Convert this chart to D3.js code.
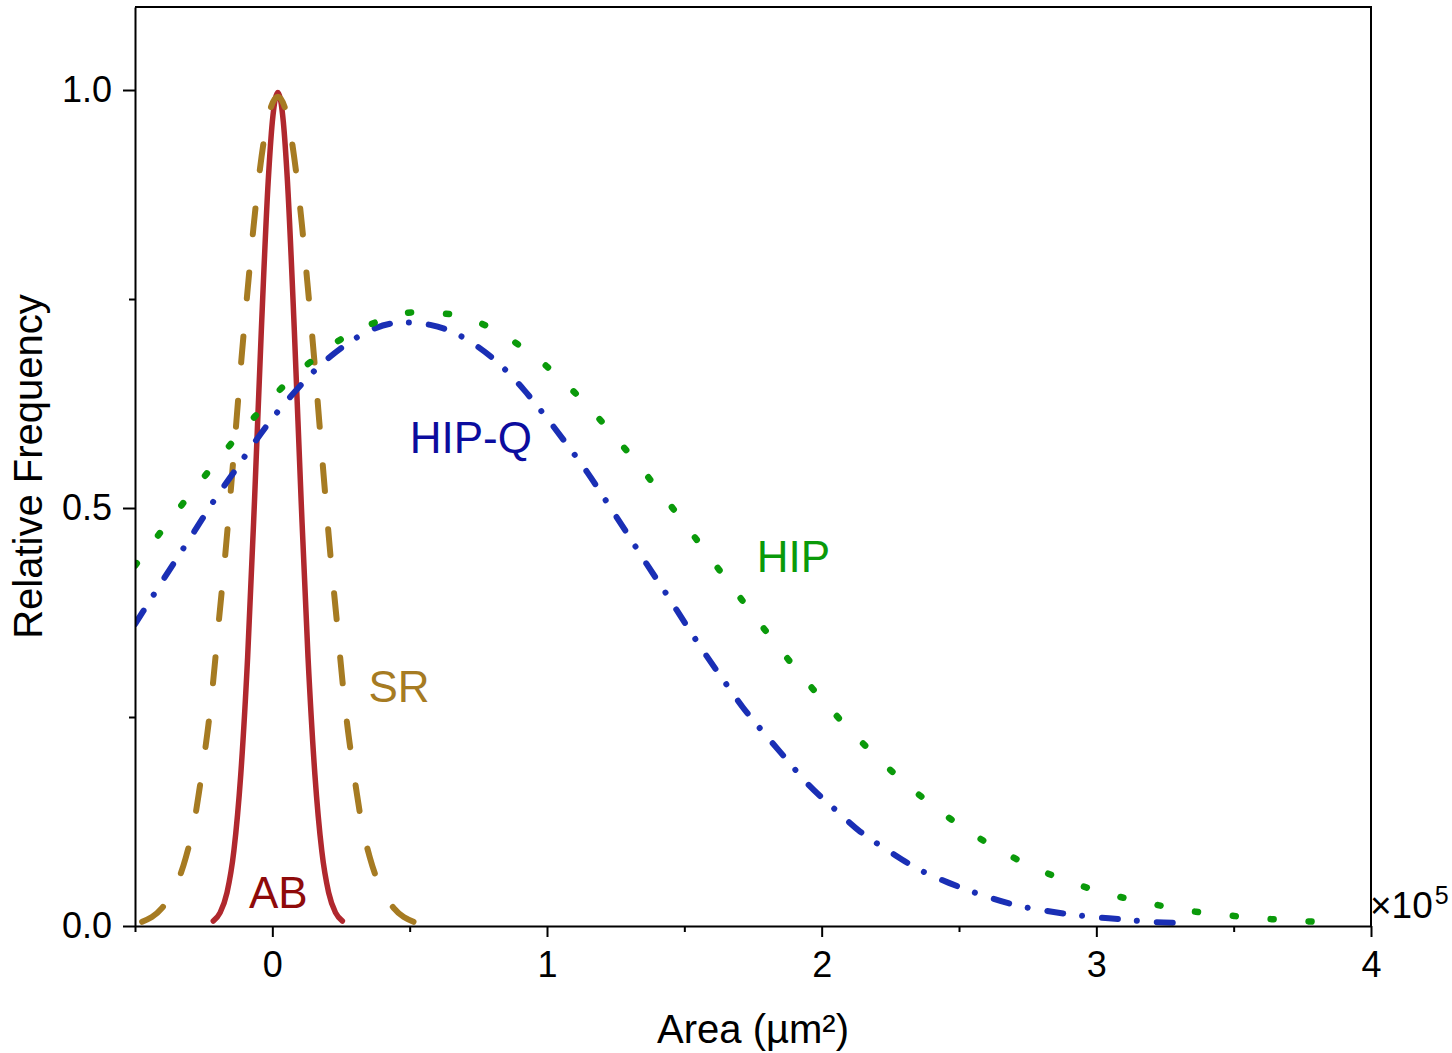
<!DOCTYPE html>
<html>
<head>
<meta charset="utf-8">
<script src="https://cdn.jsdelivr.net/npm/d3@7"></script>
<style>
  html, body { margin: 0; padding: 0; background: #fff; }
  svg { display: block; font-family: "Liberation Sans", Arial, sans-serif; }
</style>
</head>
<body>
<svg id="chart" width="1452" height="1053"></svg>
<script>
// Area in units of 1e5 µm², relative frequency normalised to the peak.
const abX = [-0.215, -0.19, -0.165, -0.14, -0.115, -0.09, -0.065, -0.04, -0.015, 0.0, 0.02,
             0.04, 0.055, 0.08, 0.105, 0.13, 0.155, 0.18, 0.205, 0.23, 0.255];
const abY = [0.006, 0.016, 0.040, 0.090, 0.181, 0.321, 0.508, 0.713, 0.891, 0.962, 0.997,
             0.962, 0.891, 0.713, 0.508, 0.321, 0.181, 0.090, 0.040, 0.016, 0.006];

const srX = [-0.474, -0.403, -0.347, -0.315, -0.284, -0.267, -0.248, -0.233, -0.215, -0.195,
             -0.172, -0.151, -0.131, -0.112, -0.090, -0.067, -0.039, -0.020, 0.020,
             0.060, 0.079, 0.107, 0.130, 0.152, 0.171, 0.191, 0.212, 0.235, 0.255,
             0.273, 0.288, 0.307, 0.324, 0.355, 0.387, 0.443, 0.514];
const srY = [0.005, 0.021, 0.051, 0.082, 0.125, 0.160, 0.203, 0.240, 0.294, 0.364,
             0.442, 0.522, 0.603, 0.680, 0.761, 0.841, 0.921, 0.960, 0.992,
             0.960, 0.921, 0.841, 0.761, 0.680, 0.603, 0.522, 0.442, 0.364, 0.294,
             0.240, 0.203, 0.160, 0.125, 0.082, 0.051, 0.021, 0.005];

const hipqX = [-0.5, -0.423, -0.347, -0.284, -0.210, -0.131, -0.068, 0.007, 0.090, 0.169,
               0.266, 0.353, 0.441, 0.502, 0.575, 0.630, 0.739, 0.824, 0.917, 0.996,
               1.066, 1.148, 1.224, 1.291, 1.361, 1.437, 1.503, 1.573, 1.651, 1.712,
               1.792, 1.873, 1.946, 2.047, 2.140, 2.243, 2.358, 2.468, 2.593, 2.719,
               2.820, 2.953, 3.093, 3.196, 3.283];
const hipqY = [0.361, 0.401, 0.440, 0.472, 0.510, 0.547, 0.577, 0.610, 0.642, 0.669,
               0.695, 0.712, 0.721, 0.722, 0.719, 0.714, 0.695, 0.673, 0.641, 0.609,
               0.579, 0.542, 0.504, 0.470, 0.434, 0.396, 0.362, 0.327, 0.290, 0.262,
               0.230, 0.199, 0.171, 0.140, 0.113, 0.090, 0.067, 0.051, 0.036, 0.024,
               0.018, 0.012, 0.008, 0.005, 0.004];

const hipX = [-0.5, -0.414, -0.329, -0.244, -0.155, -0.062, 0.035, 0.136, 0.241, 0.375,
              0.514, 0.648, 0.785, 0.893, 0.997, 1.048, 1.151, 1.242, 1.327, 1.409,
              1.495, 1.579, 1.659, 1.740, 1.825, 1.910, 2.004, 2.098, 2.195, 2.296,
              2.401, 2.508, 2.589, 2.698, 2.807, 2.946, 3.084, 3.224, 3.363, 3.502,
              3.644, 3.800];
const hipY = [0.431, 0.468, 0.504, 0.539, 0.575, 0.610, 0.644, 0.674, 0.700, 0.722,
              0.734, 0.732, 0.717, 0.696, 0.670, 0.655, 0.621, 0.587, 0.554, 0.520,
              0.484, 0.447, 0.412, 0.377, 0.341, 0.306, 0.270, 0.236, 0.204, 0.173,
              0.145, 0.119, 0.102, 0.082, 0.065, 0.048, 0.035, 0.025, 0.017, 0.012,
              0.008, 0.005];

const xMajorTicks = [0, 1, 2, 3, 4];
const xTickLabels = ["0", "1", "2", "3", "4"];
const xMinorTicks = [-0.5, 0.5, 1.5, 2.5, 3.5];
const yMajorTicks = [0, 0.5, 1.0];
const yTickLabels = ["0.0", "0.5", "1.0"];
const yMinorTicks = [0.25, 0.75];

const seriesNames = ["AB", "SR", "HIP-Q", "HIP"];

const svg = d3.select("#chart");
const plot = { left: 135, right: 1371, top: 7, bottom: 926 };

const x = d3.scaleLinear().domain([-0.5, 4]).range([plot.left, plot.right]);
const y = d3.scaleLinear().domain([0, 1.0993]).range([plot.bottom, plot.top]);

svg.append("defs").append("clipPath").attr("id", "plot-clip")
  .append("rect")
  .attr("x", plot.left).attr("y", plot.top)
  .attr("width", plot.right - plot.left).attr("height", plot.bottom - plot.top);

const zip = (xs, ys) => xs.map((v, i) => [v, ys[i]]);
const line = d3.line()
  .x(d => x(d[0]))
  .y(d => y(d[1]))
  .curve(d3.curveMonotoneX);

// fitEnds: stretch the gaps slightly so the dashed line starts and ends on a dash,
// with an odd dash count so one dash sits on the middle of the path
const curves = [
  { name: seriesNames[0], data: zip(abX, abY), color: "#b0282e", width: 5.5, dash: null },
  { name: seriesNames[1], data: zip(srX, srY), color: "#a67b22", width: 6, dash: [26, 40], fitEnds: true },
  { name: seriesNames[2], data: zip(hipqX, hipqY), color: "#1a2fb5", width: 6, dash: [16, 19, 0.01, 20] },
  { name: seriesNames[3], data: zip(hipX, hipY), color: "#0a9a0a", width: 6.5, dash: [3, 35] }
];

const curveLayer = svg.append("g").attr("clip-path", "url(#plot-clip)");
curveLayer.selectAll("path")
  .data(curves)
  .join("path")
  .attr("d", d => line(d.data))
  .attr("fill", "none")
  .attr("stroke", d => d.color)
  .attr("stroke-width", d => d.width)
  .attr("stroke-linecap", "round")
  .attr("stroke-linejoin", "round")
  .attr("stroke-dasharray", d => d.dash ? d.dash.join(",") : null)
  .each(function (d) {
    if (!d.fitEnds) return;
    const len = this.getTotalLength();
    const [dash, gap] = d.dash;
    const n = Math.max(2, 2 * Math.round((len - dash) / (2 * (dash + gap))));
    const fitted = (len - (n + 1) * dash) / n;
    d3.select(this).attr("stroke-dasharray", `${dash},${fitted}`);
  });

// Frame: top and right edges
svg.append("path")
  .attr("d", `M${plot.left},${plot.top}H${plot.right}V${plot.bottom}`)
  .attr("fill", "none").attr("stroke", "#000").attr("stroke-width", 2);

// X axis
svg.append("g").attr("transform", `translate(0,${plot.bottom})`)
  .call(d3.axisBottom(x).tickValues(xMajorTicks)
    .tickFormat((d, i) => xTickLabels[i]).tickSize(11).tickSizeOuter(0).tickPadding(14));
svg.append("g").attr("transform", `translate(0,${plot.bottom})`)
  .call(d3.axisBottom(x).tickValues(xMinorTicks).tickFormat("").tickSize(6).tickSizeOuter(0))
  .call(g => g.select(".domain").remove());

// Y axis
svg.append("g").attr("transform", `translate(${plot.left},0)`)
  .call(d3.axisLeft(y).tickValues(yMajorTicks)
    .tickFormat((d, i) => yTickLabels[i]).tickSize(12).tickSizeOuter(0).tickPadding(11));
svg.append("g").attr("transform", `translate(${plot.left},0)`)
  .call(d3.axisLeft(y).tickValues(yMinorTicks).tickFormat("").tickSize(6).tickSizeOuter(0))
  .call(g => g.select(".domain").remove());

svg.selectAll(".domain, .tick line").attr("stroke", "#000").attr("stroke-width", 2);
svg.selectAll(".tick text")
  .attr("fill", "#000")
  .style("font-family", "'Liberation Sans', Arial, sans-serif")
  .style("font-size", "36px");

// Axis titles
svg.append("text")
  .attr("x", (plot.left + plot.right) / 2).attr("y", 1043)
  .attr("text-anchor", "middle")
  .style("font-size", "40px").attr("fill", "#000")
  .text("Area (µm²)");

svg.append("text")
  .attr("transform", `translate(42,${(plot.top + plot.bottom) / 2}) rotate(-90)`)
  .attr("text-anchor", "middle")
  .style("font-size", "40px").attr("fill", "#000")
  .text("Relative Frequency");

// Scale multiplier at the end of the x axis
const mult = svg.append("text")
  .attr("x", 1370).attr("y", 918)
  .style("font-size", "37px").attr("fill", "#000");
mult.append("tspan").text("×10");
mult.append("tspan").attr("dx", 2).attr("dy", -14).style("font-size", "25px").text("5");

// Series labels
const labels = [
  { text: seriesNames[0], xv: -0.085, yv: 0.022, color: "#8e0a0a" },
  { text: seriesNames[1], xv: 0.35, yv: 0.268, color: "#a67b22" },
  { text: seriesNames[2], xv: 0.50, yv: 0.566, color: "#0c0c9e" },
  { text: seriesNames[3], xv: 1.764, yv: 0.424, color: "#0a9a0a" }
];
svg.append("g").selectAll("text")
  .data(labels)
  .join("text")
  .attr("x", d => x(d.xv))
  .attr("y", d => y(d.yv))
  .style("font-size", "44px")
  .attr("fill", d => d.color)
  .text(d => d.text);
</script>
</body>
</html>
